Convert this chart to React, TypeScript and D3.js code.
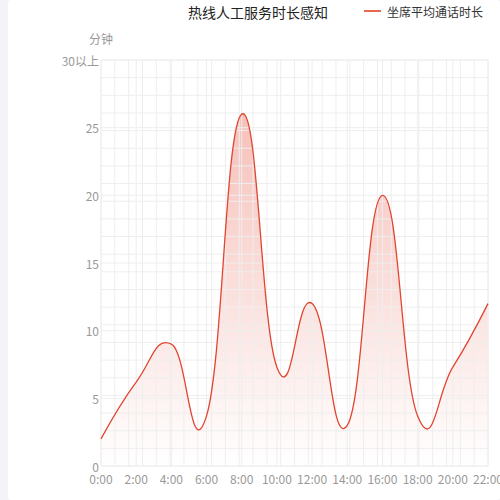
import * as d3 from "d3";
import React from "react";

// 数据
const hours = [0, 2, 4, 6, 8, 10, 12, 14, 16, 18, 20, 22];
const minutes = [2, 6.2, 9, 3.7, 26, 7.3, 12, 3.0, 20, 3.7, 7.3, 12];
const yTicks = [0, 5, 10, 15, 20, 25, 30];
const yTickLabels = ["0", "5", "10", "15", "20", "25", "30以上"];
const xTickLabels = ["0:00", "2:00", "4:00", "6:00", "8:00", "10:00", "12:00", "14:00", "16:00", "18:00", "20:00", "22:00"];
const title = "热线人工服务时长感知";
const seriesName = "坐席平均通话时长";
const yName = "分钟";

const W = 500, H = 500;
const margin = { top: 60, right: 12, bottom: 34, left: 101 };
const font = "'Noto Sans CJK SC', 'Noto Sans', sans-serif";

export default function App() {
  const x = d3.scaleLinear().domain([0, 22]).range([margin.left, W - margin.right]);
  const y = d3.scaleLinear().domain([0, 30]).range([H - margin.bottom, margin.top]);

  const pts = hours.map((h, i) => [h, minutes[i]] as [number, number]);
  const curve = d3.curveCardinal.tension(-0.4);
  const line = d3.line<[number, number]>().x(d => x(d[0])).y(d => y(d[1])).curve(curve);
  const area = d3.area<[number, number]>().x(d => x(d[0])).y0(y(0)).y1(d => y(d[1])).curve(curve);

  // 背景网格（细）
  const minorX = d3.range(29).map(i => margin.left + (i * (W - margin.right - margin.left)) / 28);
  const minorY = d3.range(24).map(i => margin.top + (i * (H - margin.bottom - margin.top)) / 23);

  return (
    <div style={{ position: "fixed", left: 0, top: 0, width: W, height: H, background: "#f3f3f8" }}>
      <svg width={W} height={H} style={{ display: "block" }}>
        <defs>
          <linearGradient id="fillGrad" x1="0" y1={y(26)} x2="0" y2={y(0)} gradientUnits="userSpaceOnUse">
            <stop offset="0" stopColor="rgb(231,80,62)" stopOpacity={0.36} />
            <stop offset="1" stopColor="rgb(231,80,62)" stopOpacity={0.0} />
          </linearGradient>
        </defs>
        <rect x={8} y={0} width={W - 8} height={H} rx={3} fill="#fff" />

        <path d={area(pts) || ""} fill="url(#fillGrad)" />

        <g stroke="#eeeeee" strokeWidth={1} fill="none">
          {minorX.map((v, i) => (
            <line key={"mx" + i} x1={v} x2={v} y1={y(30)} y2={y(0)} />
          ))}
          {minorY.map((v, i) => (
            <line key={"my" + i} x1={x(0)} x2={x(22)} y1={v} y2={v} />
          ))}
          {hours.map((h, i) => (
            <line key={"gx" + i} x1={x(h)} x2={x(h)} y1={y(30)} y2={y(0)} />
          ))}
          {yTicks.map((t, i) => (
            <line key={"gy" + i} x1={x(0)} x2={x(22)} y1={y(t)} y2={y(t)} />
          ))}
        </g>

        <path d={line(pts) || ""} fill="none" stroke="#e2452f" strokeWidth={1.3} />

        <g fontFamily={font} fontSize={12} fill="#999">
          {yTicks.map((t, i) => (
            <text key={"yl" + i} x={x(0) - 2} y={y(t)} textAnchor="end" dominantBaseline="central">
              {yTickLabels[i]}
            </text>
          ))}
          {hours.map((h, i) => (
            <text key={"xl" + i} x={x(h)} y={y(0) + 12} textAnchor="middle" dominantBaseline="central">
              {xTickLabels[i]}
            </text>
          ))}
          <text x={x(0)} y={38} textAnchor="middle" dominantBaseline="central">{yName}</text>
        </g>

        <text x={258} y={12} textAnchor="middle" dominantBaseline="central" fontFamily={font} fontSize={14} fill="#222">
          {title}
        </text>
        <g>
          <line x1={364} x2={381} y1={11} y2={11} stroke="#e8674f" strokeWidth={2} />
          <text x={387} y={11} dominantBaseline="central" fontFamily={font} fontSize={12} fill="#333">
            {seriesName}
          </text>
        </g>
      </svg>
    </div>
  );
}
